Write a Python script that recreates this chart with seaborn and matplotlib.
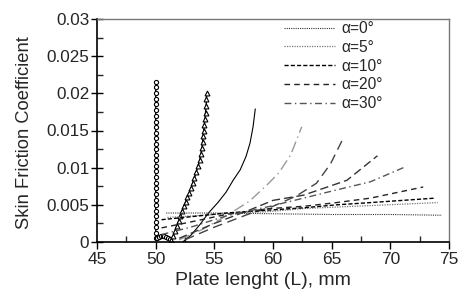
import matplotlib
matplotlib.use("Agg")
import matplotlib.pyplot as plt
import seaborn as sns
from matplotlib.ticker import MultipleLocator, FixedLocator

sns.set_style("ticks")
plt.rcParams['font.family'] = ['Liberation Sans', 'DejaVu Sans']

# --- data ---
circ_x = [50.0]*29 + [50.15, 50.3, 50.45, 50.6, 50.75, 50.9, 51.05, 51.2]
circ_y = [0.0215, 0.0208, 0.0200, 0.0192, 0.0185, 0.0177, 0.0170, 0.0162, 0.0155,
          0.0147, 0.0140, 0.0132, 0.0125, 0.0117, 0.0110, 0.0102, 0.0095, 0.0087,
          0.0080, 0.0072, 0.0065, 0.0057, 0.0050, 0.0042, 0.0035, 0.0027, 0.0020,
          0.0012, 0.0005, 0.0006, 0.0007, 0.0008, 0.0008, 0.0008, 0.0007, 0.0006, 0.0004]

tri_x = [51.3, 51.5, 51.65, 51.8, 51.95, 52.1, 52.25, 52.4, 52.55, 52.7, 52.85, 53.0,
         53.15, 53.3, 53.45, 53.6, 53.75, 53.85, 53.95, 54.0, 54.05, 54.1, 54.15,
         54.2, 54.25, 54.3, 54.33, 54.35]
tri_y = [0.0003, 0.0008, 0.0015, 0.0022, 0.0028, 0.0035, 0.0042, 0.0048, 0.0054,
         0.0060, 0.0066, 0.0072, 0.0079, 0.0086, 0.0094, 0.0102, 0.0110, 0.0118,
         0.0126, 0.0135, 0.0142, 0.0150, 0.0158, 0.0165, 0.0174, 0.0183, 0.0192, 0.0200]

solid_x = [52.3, 53.0, 53.8, 54.5, 55.3, 56.0, 56.6, 57.2, 57.7, 58.04, 58.3, 58.49]
solid_y = [0.0000, 0.0009, 0.0024, 0.0039, 0.0053, 0.0067, 0.0083, 0.0097, 0.0115,
           0.0133, 0.0155, 0.0179]

d1_x = [52.0, 54.0, 56.0, 58.0, 59.5, 60.5, 61.5, 62.45]
d1_y = [0.0003, 0.0017, 0.0035, 0.0055, 0.0077, 0.0093, 0.0117, 0.0155]

d2_x = [52.5, 55.0, 58.0, 60.0, 62.0, 63.7, 64.9, 65.9]
d2_y = [0.0003, 0.0020, 0.0038, 0.0048, 0.0062, 0.0079, 0.0105, 0.0137]

d3_x = [52.0, 55.0, 58.0, 60.0, 62.6, 66.3, 68.9]
d3_y = [0.0005, 0.0025, 0.0043, 0.0056, 0.0063, 0.0083, 0.0116]

a30_x = [50.5, 53.0, 56.0, 59.75, 62.6, 65.4, 68.3, 71.26]
a30_y = [0.0010, 0.0020, 0.0035, 0.0048, 0.0059, 0.0070, 0.0081, 0.0101]

a20_x = [50.5, 53.0, 56.0, 59.75, 62.6, 65.4, 68.3, 72.8]
a20_y = [0.0019, 0.0027, 0.0037, 0.0045, 0.0048, 0.0053, 0.0059, 0.0074]

a10_x = [50.5, 53.0, 56.0, 59.75, 62.6, 65.4, 68.3, 73.8]
a10_y = [0.0030, 0.0034, 0.0039, 0.0043, 0.0046, 0.0050, 0.0053, 0.0059]

a5_x = [51.0, 54.0, 57.0, 59.75, 62.6, 65.4, 68.3, 74.04]
a5_y = [0.0033, 0.0036, 0.0039, 0.0041, 0.0045, 0.0047, 0.0049, 0.0053]

a0_x = [50.9, 55.0, 60.0, 65.0, 70.0, 74.4]
a0_y = [0.0039, 0.0039, 0.0038, 0.0037, 0.0037, 0.0036]

legend_labels = ["α=0°", "α=5°", "α=10°", "α=20°", "α=30°"]
xticks = [45, 50, 55, 60, 65, 70, 75]
yticks = [0, 0.005, 0.01, 0.015, 0.02, 0.025, 0.03]
ytick_labels = ["0", "0.005", "0.01", "0.015", "0.02", "0.025", "0.03"]

fig = plt.figure(figsize=(4.70, 3.02), dpi=100)
ax = fig.add_axes([97/470, 60/302, 352/470, 223/302])

common = dict(sort=False, estimator=None, ax=ax)

sns.lineplot(x=circ_x, y=circ_y, color="black", lw=1.0,
             marker="o", markersize=3, markerfacecolor="white",
             markeredgecolor="black", markeredgewidth=0.8, **common)
sns.lineplot(x=tri_x, y=tri_y, color="black", lw=1.0,
             marker="^", markersize=3.5, markerfacecolor="white",
             markeredgecolor="black", markeredgewidth=0.8, **common)
sns.lineplot(x=solid_x, y=solid_y, color="black", lw=0.8, **common)
sns.lineplot(x=d1_x, y=d1_y, color="#999999", lw=1.0,
             linestyle=(0, (8, 3, 1, 3)), **common)
sns.lineplot(x=d2_x, y=d2_y, color="#444444", lw=1.0,
             linestyle=(0, (7, 4)), **common)
sns.lineplot(x=d3_x, y=d3_y, color="#333333", lw=1.0,
             linestyle=(0, (6, 3)), **common)

specs = [
    (a0_x, a0_y, "#333333", (0, (1, 1)), 0.8),
    (a5_x, a5_y, "#777777", (0, (1, 1)), 0.9),
    (a10_x, a10_y, "black", (0, (3, 1.5)), 1.0),
    (a20_x, a20_y, "#222222", (0, (4, 3)), 1.0),
    (a30_x, a30_y, "#555555", (0, (5, 2.5, 1, 2.5)), 1.0),
]
for (xs, ys, c, ls, lw), lab in zip(specs, legend_labels):
    sns.lineplot(x=xs, y=ys, color=c, lw=lw, linestyle=ls, label=lab, **common)

ax.set_xlim(45, 75)
ax.set_ylim(0, 0.03)
ax.xaxis.set_major_locator(FixedLocator(xticks))
ax.xaxis.set_minor_locator(MultipleLocator(2.5))
ax.yaxis.set_major_locator(FixedLocator(yticks))
ax.set_yticklabels(ytick_labels)
ax.yaxis.set_minor_locator(MultipleLocator(0.0025))

ax.tick_params(axis="x", which="major", direction="out", length=5, width=1,
               labelsize=12.5, pad=2, color="black")
ax.tick_params(axis="x", which="minor", direction="in", length=4, width=1)
ax.tick_params(axis="y", which="major", direction="inout", length=9, width=1,
               labelsize=12.3, pad=1, color="black")
ax.tick_params(axis="y", which="minor", direction="in", length=4, width=1)

for s in ["left", "bottom"]:
    ax.spines[s].set_color("black")
    ax.spines[s].set_linewidth(1.2)
for s in ["top", "right"]:
    ax.spines[s].set_color("#777777")
    ax.spines[s].set_linewidth(1.0)

ax.set_xlabel("Plate lenght (L), mm", fontsize=14)
ax.xaxis.set_label_coords(0.472, -0.135)
ax.set_ylabel("Skin Friction Coefficient", fontsize=13.2)
ax.yaxis.set_label_coords(-0.182, 0.49)

leg = ax.legend(loc="upper left", bbox_to_anchor=(0.514, 1.018), frameon=False,
                fontsize=11.2, handlelength=3.3, handletextpad=0.4,
                labelspacing=0.24, borderaxespad=0.2, borderpad=0.2)

fig.savefig("out.png", dpi=100)
